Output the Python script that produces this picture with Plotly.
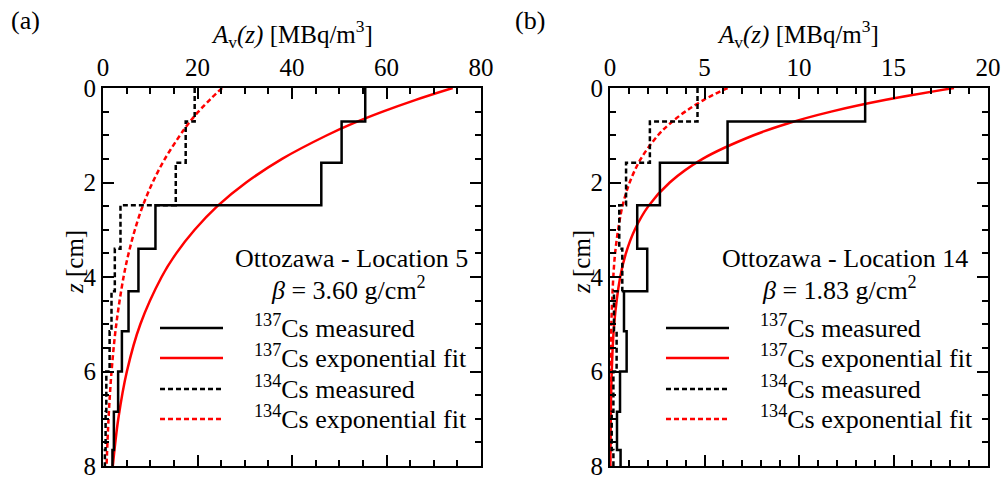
import plotly.graph_objects as go

# ---------------- data ----------------
# layer boundaries (depth, cm)
z_bounds_a = [0, 0.71, 1.58, 2.48, 3.40, 4.30, 5.15, 6.00, 6.85, 7.66, 8.0]
cs137_meas_a = [55.5, 50.5, 46.2, 11.1, 7.5, 5.4, 4.0, 3.2, 2.3, 2.0]
cs134_meas_a = [19.4, 17.5, 15.4, 3.7, 2.5, 1.8, 1.4, 0.7, 0.55, 0.4]

z_bounds_b = [0, 0.71, 1.58, 2.48, 3.40, 4.30, 5.15, 6.00, 6.85, 7.66, 8.0]
cs137_meas_b = [13.5, 6.22, 2.64, 1.44, 1.97, 0.74, 0.88, 0.53, 0.37, 0.56]
cs134_meas_b = [4.63, 2.11, 0.85, 0.49, 0.65, 0.21, 0.35, 0.18, 0.09, 0.18]

# exponential fit curves
z_fit = [0, 0.25, 0.5, 0.75, 1, 1.5, 2, 2.5, 3, 3.5, 4, 5, 6, 7, 8]
cs137_fit_a = [74.0, 66.2, 59.2, 52.9, 47.4, 37.9, 30.3, 24.2, 19.4, 15.5, 12.4, 7.9, 5.05, 3.24, 2.07]
cs134_fit_a = [25.2, 22.6, 20.2, 18.1, 16.3, 13.1, 10.5, 8.4, 6.75, 5.42, 4.35, 2.81, 1.81, 1.17, 0.75]
cs137_fit_b = [18.2, 14.6, 11.7, 9.4, 7.6, 4.9, 3.16, 2.03, 1.31, 0.84, 0.54, 0.22, 0.093, 0.039, 0.016]
cs134_fit_b = [6.22, 4.97, 3.98, 3.18, 2.54, 1.63, 1.04, 0.66, 0.43, 0.27, 0.175, 0.071, 0.029, 0.012, 0.005]

legend_labels = ["<sup>137</sup>Cs measured", "<sup>137</sup>Cs exponential fit",
                 "<sup>134</sup>Cs measured", "<sup>134</sup>Cs exponential fit"]
panel_labels = ["(a)", "(b)"]
site_labels = ["Ottozawa - Location 5", "Ottozawa - Location 14"]
beta_labels = ["<i>β</i> = 3.60 g/cm<sup>2</sup>", "<i>β</i> = 1.83 g/cm<sup>2</sup>"]

# ---------------- figure ----------------
W, H = 1003, 478
FONT = "Liberation Serif"
fig = go.Figure()

def px2x(p):
    return p / W

def px2y(p):
    return 1 - p / H

DASH = "5px,3px"
LW = 2.5

def add_panel(xa, ya, zb, m137, m134, f137, f134):
    fig.add_trace(go.Scatter(x=f137, y=z_fit, mode="lines", line=dict(color="red", width=LW, shape="spline"),
                             xaxis=xa, yaxis=ya, showlegend=False))
    fig.add_trace(go.Scatter(x=f134, y=z_fit, mode="lines", line=dict(color="red", width=LW, dash=DASH, shape="spline"),
                             xaxis=xa, yaxis=ya, showlegend=False))
    fig.add_trace(go.Scatter(x=m134 + [m134[-1]], y=zb, mode="lines",
                             line=dict(color="black", width=LW, dash=DASH, shape="vh"),
                             xaxis=xa, yaxis=ya, showlegend=False))
    fig.add_trace(go.Scatter(x=m137 + [m137[-1]], y=zb, mode="lines",
                             line=dict(color="black", width=LW, shape="vh"),
                             xaxis=xa, yaxis=ya, showlegend=False))

add_panel("x", "y", z_bounds_a, cs137_meas_a, cs134_meas_a, cs137_fit_a, cs134_fit_a)
add_panel("x2", "y2", z_bounds_b, cs137_meas_b, cs134_meas_b, cs137_fit_b, cs134_fit_b)

tickfont = dict(family=FONT, size=25, color="black")

def xaxis_cfg(domain, rng, dtick, mdtick, anchor):
    return dict(domain=domain, range=rng, side="top", dtick=dtick, tick0=0, automargin=False,
                ticks="inside", ticklen=11, tickwidth=1.5, tickcolor="black", ticklabeloverflow="allow",
                minor=dict(dtick=mdtick, tick0=0, ticks="inside", ticklen=6, tickwidth=1.5, tickcolor="black"),
                showline=True, linecolor="black", linewidth=2, mirror="allticks",
                showgrid=False, zeroline=False, tickfont=tickfont, anchor=anchor)

def yaxis_cfg(domain, anchor):
    return dict(domain=domain, range=[8, 0], dtick=2, tick0=0, automargin=False,
                ticks="inside", ticklen=11, tickwidth=1.5, tickcolor="black", ticklabeloverflow="allow",
                minor=dict(dtick=0.5, tick0=0, ticks="inside", ticklen=6, tickwidth=1.5, tickcolor="black"),
                showline=True, linecolor="black", linewidth=2, mirror="allticks",
                showgrid=False, zeroline=False, tickfont=tickfont, anchor=anchor)

ydom = [px2y(466), px2y(88)]
fig.update_layout(
    width=W, height=H,
    margin=dict(l=0, r=0, t=0, b=0, autoexpand=False),
    paper_bgcolor="white", plot_bgcolor="white",
    font=dict(family=FONT, size=25, color="black"),
    showlegend=False,
    xaxis=xaxis_cfg([px2x(103), px2x(481)], [0, 80], 20, 5, "y"),
    yaxis=yaxis_cfg(ydom, "x"),
    xaxis2=xaxis_cfg([px2x(610), px2x(988)], [0, 20], 5, 1, "y2"),
    yaxis2=yaxis_cfg(ydom, "x2"),
)

annots = []
shapes = []
panels = [
    dict(left=103, right=481, label_x=25, title_x=292, ylab_x=74,
         site_x=351, beta_x=348, leg_l=160, leg_r=223, text_x=252),
    dict(left=610, right=988, label_x=530, title_x=798, ylab_x=581,
         site_x=845, beta_x=839, leg_l=666, leg_r=729, text_x=758),
]
leg_rows = [328, 358, 389, 419]
leg_styles = [("black", "solid"), ("red", "solid"), ("black", DASH), ("red", DASH)]

for i, p in enumerate(panels):
    annots.append(dict(text=panel_labels[i], x=px2x(p["label_x"]), y=px2y(20), xref="paper", yref="paper",
                       showarrow=False, xanchor="center", yanchor="middle", font=dict(family=FONT, size=26)))
    annots.append(dict(text="<i>A</i><sub>v</sub><i>(z)</i> [MBq/m<sup>3</sup>]", x=px2x(p["title_x"]), y=px2y(34),
                       xref="paper", yref="paper", showarrow=False, xanchor="center", yanchor="middle",
                       font=dict(family=FONT, size=25)))
    annots.append(dict(text="<i>z</i> [cm]", x=px2x(p["ylab_x"]), y=px2y(262), xref="paper", yref="paper",
                       showarrow=False, xanchor="center", yanchor="middle", textangle=-90,
                       font=dict(family=FONT, size=25)))
    annots.append(dict(text=site_labels[i], x=px2x(p["site_x"]), y=px2y(258), xref="paper", yref="paper",
                       showarrow=False, xanchor="center", yanchor="middle", font=dict(family=FONT, size=26)))
    annots.append(dict(text=beta_labels[i], x=px2x(p["beta_x"]), y=px2y(288), xref="paper", yref="paper",
                       showarrow=False, xanchor="center", yanchor="middle", font=dict(family=FONT, size=26)))
    for r, (lbl, (col, dash)) in enumerate(zip(legend_labels, leg_styles)):
        yy = px2y(leg_rows[r])
        shapes.append(dict(type="line", xref="paper", yref="paper", x0=px2x(p["leg_l"]), x1=px2x(p["leg_r"]),
                           y0=yy, y1=yy, line=dict(color=col, width=LW, dash=dash)))
        annots.append(dict(text=lbl, x=px2x(p["text_x"]), y=px2y(leg_rows[r] - 2), xref="paper", yref="paper",
                           showarrow=False, xanchor="left", yanchor="middle", font=dict(family=FONT, size=26)))

fig.update_layout(annotations=annots, shapes=shapes)
fig.write_html("out.html")
